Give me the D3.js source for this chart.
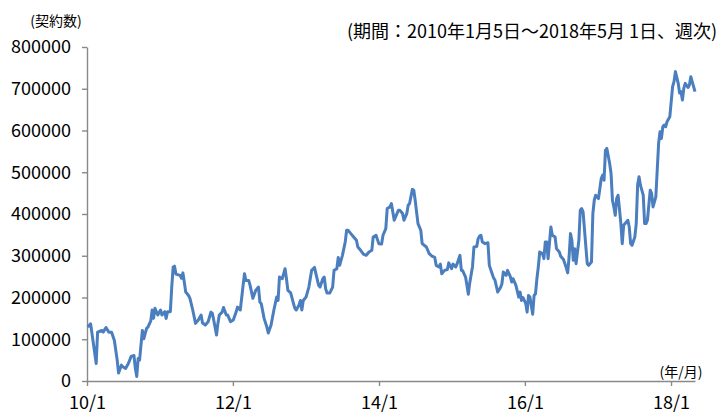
<!DOCTYPE html>
<html>
<head>
<meta charset="utf-8">
<script src="https://cdn.jsdelivr.net/npm/d3@7.9.0/dist/d3.min.js"></script>
<style>
  body { margin: 0; background: #fff; }
  svg { display: block; font-family: "Noto Sans CJK JP", "Noto Sans", sans-serif; }
</style>
</head>
<body>
<div id="chart"></div>
<script>
// weekly series, week index counted from 2010-01-05
const startDate = new Date(2010, 0, 5);
const weeks = [
  0, 2, 6, 7, 10, 11, 13, 15, 17, 19, 21, 22, 24, 25, 27, 29, 31, 33, 34, 35, 36, 37, 39, 40, 42, 43, 45, 46, 47, 48,
  50, 52, 53, 55, 56, 57, 59, 60, 61, 62, 63, 66, 67, 68, 70, 72, 73, 75, 77, 79, 81, 82, 84, 86, 88, 89, 90, 92, 93, 94,
  96, 97, 99, 100, 102, 104, 106, 107, 109, 111, 112, 113, 115, 116, 118, 120, 122, 123, 124, 126, 128, 129, 131, 133, 135, 136, 137, 139, 141, 142,
  143, 145, 147, 148, 149, 151, 152, 153, 154, 156, 158, 160, 162, 163, 165, 166, 168, 169, 170, 171, 173, 175, 176, 178, 179, 180, 182, 184, 185, 186,
  188, 190, 192, 193, 195, 197, 199, 201, 203, 204, 206, 208, 210, 211, 213, 214, 216, 217, 219, 220, 222, 223, 225, 226, 228, 229, 230, 232, 233, 234,
  236, 238, 239, 242, 244, 246, 248, 249, 251, 252, 253, 255, 257, 258, 260, 261, 263, 264, 266, 267, 268, 270, 271, 272, 273, 275, 276, 278, 279, 280,
  281, 282, 284, 286, 287, 289, 290, 291, 293, 295, 296, 297, 299, 300, 302, 303, 304, 306, 308, 309, 310, 311, 313, 314, 315, 316, 318, 319, 320, 321,
  322, 323, 325, 326, 327, 328, 329, 331, 332, 334, 335, 337, 338, 340, 342, 343, 344, 345, 346, 347, 348, 349, 351, 352, 353, 354, 356, 357, 358, 360,
  361, 362, 363, 365, 366, 367, 368, 369, 370, 371, 373, 374, 375, 376, 377, 378, 379, 380, 381, 382, 383, 385, 386, 387, 388, 389, 391, 392, 393, 394,
  395, 397, 398, 399, 400, 402, 403, 404, 406, 407, 408, 409, 410, 411, 412, 413, 414, 416, 417, 418, 419, 420, 422, 423, 424, 425, 426, 427, 429, 430,
  431, 432, 434
];
const contracts = [
  129000, 137000, 42000, 117000, 121000, 117000, 128000, 117000, 117000, 97000, 50000, 19000, 38000, 34000, 30000, 42000, 59000, 61000, 30000, 11000, 54000, 50000, 121000, 101000, 126000, 129000, 144000, 170000, 150000, 174000,
  158000, 170000, 158000, 166000, 150000, 166000, 166000, 225000, 273000, 275000, 256000, 253000, 246000, 259000, 213000, 205000, 198000, 170000, 138000, 146000, 158000, 139000, 134000, 142000, 165000, 162000, 146000, 110000, 138000, 158000,
  165000, 176000, 158000, 158000, 142000, 146000, 165000, 177000, 170000, 229000, 257000, 241000, 241000, 229000, 198000, 217000, 225000, 189000, 185000, 150000, 129000, 115000, 134000, 170000, 201000, 193000, 249000, 245000, 269000, 245000,
  217000, 211000, 186000, 174000, 170000, 182000, 193000, 170000, 193000, 201000, 225000, 265000, 272000, 258000, 229000, 225000, 245000, 249000, 221000, 211000, 211000, 225000, 265000, 269000, 296000, 277000, 301000, 333000, 361000, 361000,
  353000, 345000, 337000, 321000, 313000, 304000, 301000, 309000, 313000, 345000, 349000, 329000, 328000, 349000, 365000, 413000, 417000, 425000, 385000, 393000, 409000, 409000, 401000, 385000, 401000, 421000, 425000, 459000, 457000, 433000,
  377000, 361000, 329000, 321000, 305000, 299000, 296000, 277000, 273000, 280000, 257000, 265000, 267000, 283000, 269000, 280000, 273000, 281000, 301000, 265000, 264000, 249000, 229000, 208000, 235000, 275000, 321000, 322000, 341000, 347000,
  349000, 333000, 329000, 331000, 277000, 257000, 247000, 242000, 213000, 224000, 233000, 261000, 253000, 265000, 250000, 237000, 245000, 229000, 201000, 213000, 193000, 200000, 186000, 165000, 205000, 201000, 160000, 205000, 209000, 245000,
  273000, 309000, 305000, 293000, 333000, 333000, 293000, 369000, 349000, 345000, 317000, 309000, 299000, 291000, 271000, 259000, 297000, 353000, 337000, 289000, 317000, 281000, 337000, 409000, 413000, 405000, 321000, 281000, 277000, 285000,
  401000, 433000, 445000, 437000, 461000, 485000, 493000, 481000, 553000, 557000, 521000, 497000, 433000, 417000, 397000, 437000, 445000, 413000, 377000, 329000, 373000, 381000, 385000, 369000, 329000, 325000, 345000, 377000, 470000, 489000,
  469000, 445000, 377000, 377000, 385000, 457000, 449000, 417000, 441000, 505000, 569000, 597000, 581000, 609000, 613000, 609000, 621000, 633000, 669000, 705000, 717000, 741000, 713000, 690000, 693000, 673000, 701000, 713000, 703000, 709000,
  729000, 717000, 693000
];
const yTicks = [0, 100000, 200000, 300000, 400000, 500000, 600000, 700000, 800000];
const xTickDates = [new Date(2010, 0, 1), new Date(2012, 0, 1), new Date(2014, 0, 1), new Date(2016, 0, 1), new Date(2018, 0, 1)];
const xTickLabels = ['10/1', '12/1', '14/1', '16/1', '18/1'];
const title = '(期間：2010年1月5日～2018年5月 1日、週次)';
const yUnit = '(契約数)';
const xUnit = '(年/月)';

const data = weeks.map((w, i) => ({
  date: d3.timeDay.offset(startDate, w * 7),
  value: contracts[i],
}));

const width = 718;
const height = 414;
const plot = { left: 87, right: 695, top: 47, bottom: 381 };
const axisColor = '#898989';

const svg = d3.select('#chart')
  .append('svg')
  .attr('width', width)
  .attr('height', height);

const x = d3.scaleTime()
  .domain([new Date(2010, 0, 1), new Date(2018, 4, 1)])
  .range([plot.left, plot.right]);

const y = d3.scaleLinear()
  .domain([0, 800000])
  .range([plot.bottom, plot.top]);

// Y axis
const yAxis = svg.append('g')
  .attr('transform', `translate(${plot.left},0)`)
  .call(d3.axisLeft(y).tickValues(yTicks).tickFormat(d3.format('d')).tickSize(5).tickSizeOuter(0).tickPadding(11));

// X axis
const xAxis = svg.append('g')
  .attr('transform', `translate(0,${plot.bottom})`)
  .call(d3.axisBottom(x).tickValues(xTickDates).tickFormat((d, i) => xTickLabels[i]).tickSize(5).tickSizeOuter(0).tickPadding(10));

[yAxis, xAxis].forEach((g) => {
  g.select('.domain').attr('stroke', axisColor).attr('stroke-width', 1.4);
  g.selectAll('.tick line').attr('stroke', axisColor).attr('stroke-width', 1.4);
  g.selectAll('.tick text')
    .attr('fill', '#000')
    .style('font-size', '18px')
    .style('font-family', '"Noto Sans CJK JP", "Noto Sans", sans-serif');
});

// line
const line = d3.line()
  .x((d) => x(d.date))
  .y((d) => y(d.value));

svg.append('path')
  .datum(data)
  .attr('fill', 'none')
  .attr('stroke', '#4a7ebe')
  .attr('stroke-width', 3)
  .attr('stroke-linejoin', 'round')
  .attr('d', line);

// labels
svg.append('text')
  .attr('x', 717)
  .attr('y', 30)
  .attr('text-anchor', 'end')
  .attr('dominant-baseline', 'central')
  .style('font-size', '18px')
  .text(title);

svg.append('text')
  .attr('x', 56)
  .attr('y', 20)
  .attr('text-anchor', 'middle')
  .attr('dominant-baseline', 'central')
  .style('font-size', '14px')
  .text(yUnit);

svg.append('text')
  .attr('x', 681)
  .attr('y', 371)
  .attr('text-anchor', 'middle')
  .attr('dominant-baseline', 'central')
  .style('font-size', '14px')
  .text(xUnit);
</script>
</body>
</html>
